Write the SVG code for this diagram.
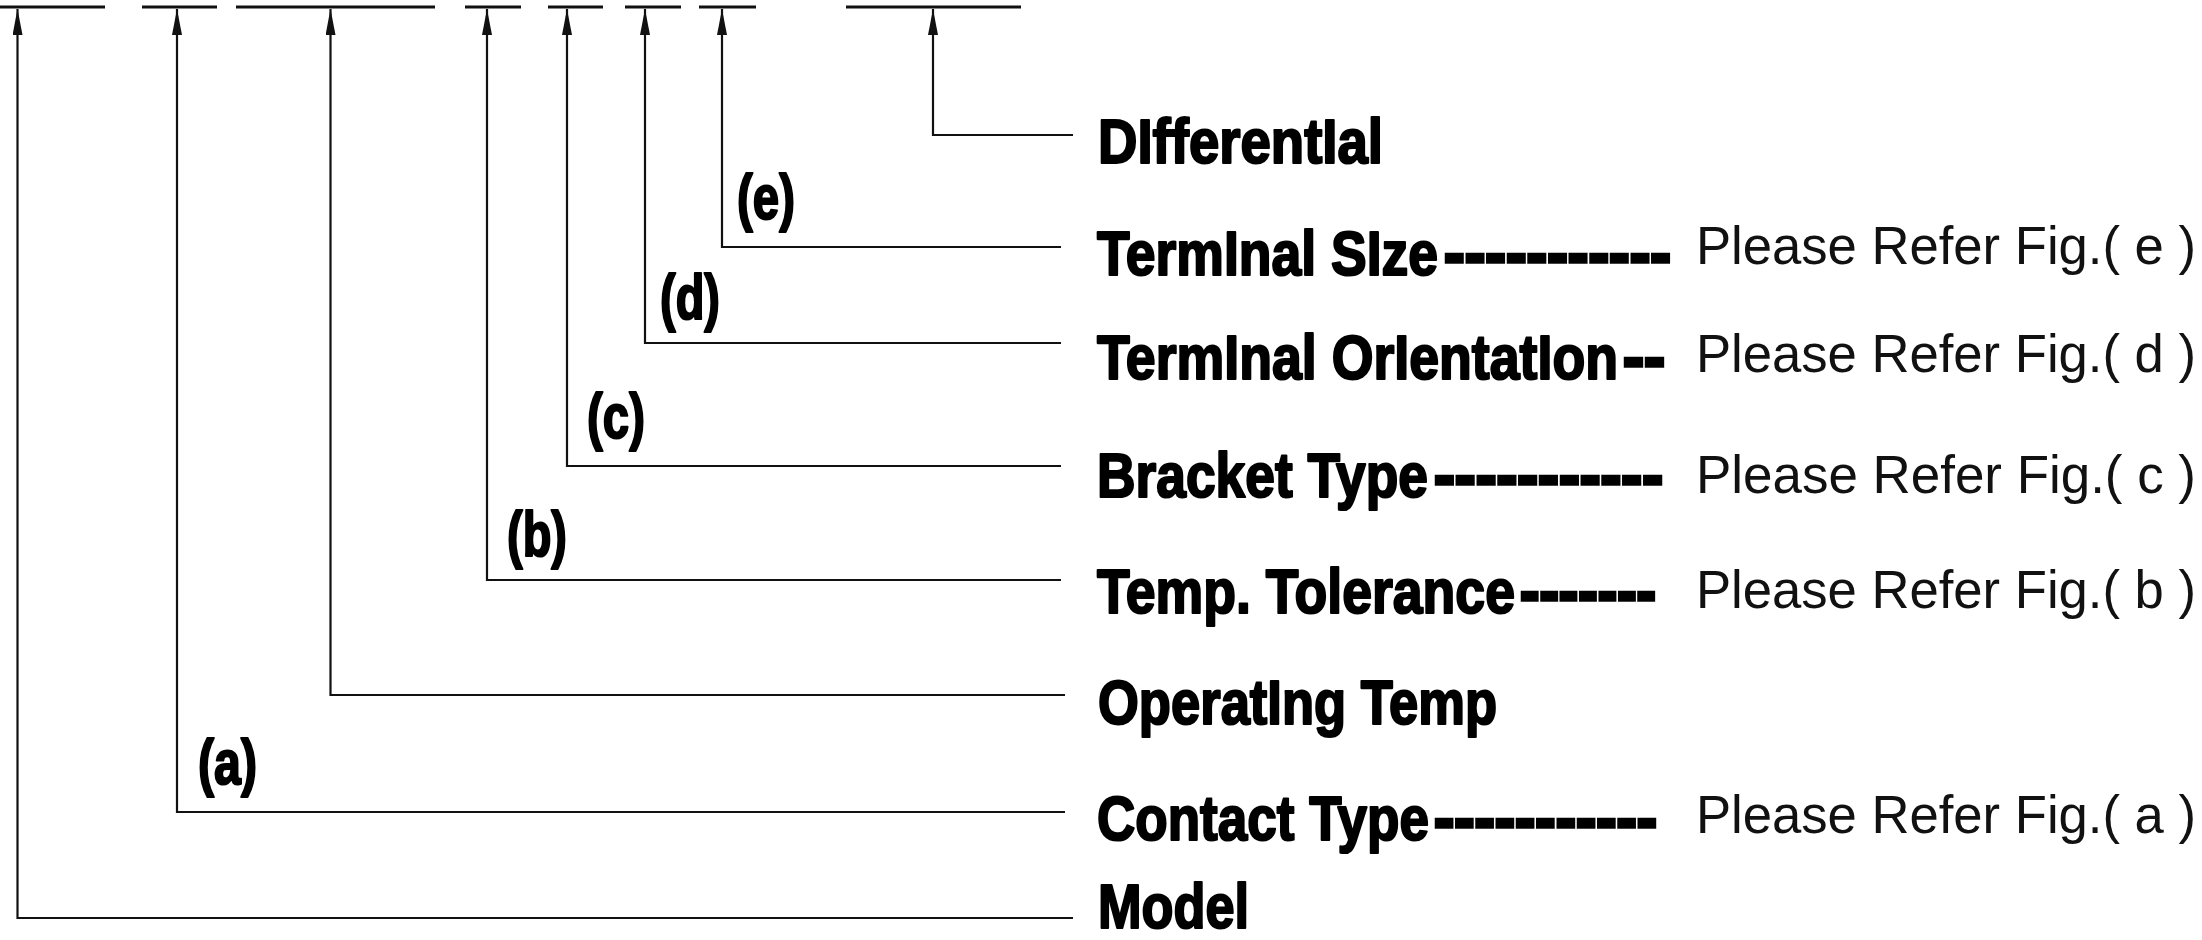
<svg xmlns="http://www.w3.org/2000/svg" width="2202" height="940" viewBox="0 0 2202 940">
<style>
.bar{stroke:#111;stroke-width:3.2;fill:none}
.conn{stroke:#111;stroke-width:2.2;fill:none}
.lbl{font-family:"Liberation Sans",Arial,sans-serif;font-weight:bold;font-size:63px;fill:#000;stroke:#000;stroke-width:2.2;stroke-linejoin:round}
.dash{font-family:"Liberation Sans",Arial,sans-serif;font-weight:bold;font-size:63px;fill:#000;stroke:#000;stroke-width:3.4}
.ref{font-family:"Liberation Sans",Arial,sans-serif;font-size:53px;fill:#111}
</style>
<defs>
<marker id="arr" viewBox="0 0 26 10" refX="26" refY="5" markerWidth="26" markerHeight="10" markerUnits="userSpaceOnUse" orient="auto">
<path d="M0,0 L26,5 L0,10 Z" fill="#111"/>
</marker>
</defs>
<rect width="2202" height="940" fill="#fff"/>
<g id="code-bars">
<path class="bar" d="M0 7 H105 M142 7 H217 M236 7 H435 M465 7 H521 M548 7 H603 M625 7 H681 M699 7 H756 M846 7 H1021"/>
</g>
<g id="connectors">
<path class="conn" marker-end="url(#arr)" d="M1073 918 H17.5 V9"/>
<path class="conn" marker-end="url(#arr)" d="M1065 812 H177 V9"/>
<path class="conn" marker-end="url(#arr)" d="M1065 695 H330.5 V9"/>
<path class="conn" marker-end="url(#arr)" d="M1061 580 H487 V9"/>
<path class="conn" marker-end="url(#arr)" d="M1061 466 H567 V9"/>
<path class="conn" marker-end="url(#arr)" d="M1061 343 H645 V9"/>
<path class="conn" marker-end="url(#arr)" d="M1061 247 H722 V9"/>
<path class="conn" marker-end="url(#arr)" d="M1073 135 H933 V9"/>
</g>
<g id="tag-a"><text class="lbl" x="198" y="784" transform="matrix(0.75 0 0 1 49.5 0)" textLength="78.7" lengthAdjust="spacingAndGlyphs">(a)</text></g>
<g id="tag-b"><text class="lbl" x="507" y="556" transform="matrix(0.75 0 0 1 126.75 0)" textLength="80" lengthAdjust="spacingAndGlyphs">(b)</text></g>
<g id="tag-c"><text class="lbl" x="587" y="438" transform="matrix(0.75 0 0 1 146.75 0)" textLength="77.3" lengthAdjust="spacingAndGlyphs">(c)</text></g>
<g id="tag-d"><text class="lbl" x="660" y="319" transform="matrix(0.75 0 0 1 165 0)" textLength="80" lengthAdjust="spacingAndGlyphs">(d)</text></g>
<g id="tag-e"><text class="lbl" x="737" y="219" transform="matrix(0.75 0 0 1 184.25 0)" textLength="77.3" lengthAdjust="spacingAndGlyphs">(e)</text></g>
<g id="differential">
<text class="lbl" x="1098" y="163" transform="matrix(0.84 0 0 1 175.68 0)" textLength="339.3" lengthAdjust="spacingAndGlyphs">DIfferentIal</text>
</g>
<g id="terminal-size">
<text class="lbl" x="1097" y="275" transform="matrix(0.84 0 0 1 175.52 0)" textLength="406" lengthAdjust="spacingAndGlyphs">TermInal SIze</text>
<text class="dash" x="1444" y="275" textLength="227" lengthAdjust="spacingAndGlyphs">-----------</text>
<text class="ref" x="1696" y="264" textLength="500" lengthAdjust="spacingAndGlyphs">Please Refer Fig.( e )</text>
</g>
<g id="terminal-orientation">
<text class="lbl" x="1097" y="379" transform="matrix(0.84 0 0 1 175.52 0)" textLength="620.2" lengthAdjust="spacingAndGlyphs">TermInal OrIentatIon</text>
<text class="dash" x="1623" y="379" textLength="42" lengthAdjust="spacingAndGlyphs">--</text>
<text class="ref" x="1696" y="372" textLength="500" lengthAdjust="spacingAndGlyphs">Please Refer Fig.( d )</text>
</g>
<g id="bracket-type">
<text class="lbl" x="1097" y="497" transform="matrix(0.84 0 0 1 175.52 0)" textLength="394" lengthAdjust="spacingAndGlyphs">Bracket Type</text>
<text class="dash" x="1434" y="497" textLength="229" lengthAdjust="spacingAndGlyphs">-----------</text>
<text class="ref" x="1696" y="493" textLength="500" lengthAdjust="spacingAndGlyphs">Please Refer Fig.( c )</text>
</g>
<g id="temp-tolerance">
<text class="lbl" x="1097" y="613" transform="matrix(0.84 0 0 1 175.52 0)" textLength="497.6" lengthAdjust="spacingAndGlyphs">Temp. Tolerance</text>
<text class="dash" x="1520" y="613" textLength="136" lengthAdjust="spacingAndGlyphs">-------</text>
<text class="ref" x="1696" y="608" textLength="500" lengthAdjust="spacingAndGlyphs">Please Refer Fig.( b )</text>
</g>
<g id="operating-temp">
<text class="lbl" x="1098" y="724" transform="matrix(0.84 0 0 1 175.68 0)" textLength="475" lengthAdjust="spacingAndGlyphs">OperatIng Temp</text>
</g>
<g id="contact-type">
<text class="lbl" x="1097" y="840" transform="matrix(0.84 0 0 1 175.52 0)" textLength="395.2" lengthAdjust="spacingAndGlyphs">Contact Type</text>
<text class="dash" x="1434" y="840" textLength="223" lengthAdjust="spacingAndGlyphs">-----------</text>
<text class="ref" x="1696" y="833" textLength="500" lengthAdjust="spacingAndGlyphs">Please Refer Fig.( a )</text>
</g>
<g id="model">
<text class="lbl" x="1098" y="928" transform="matrix(0.84 0 0 1 175.68 0)" textLength="179.8" lengthAdjust="spacingAndGlyphs">Model</text>
</g>
</svg>
